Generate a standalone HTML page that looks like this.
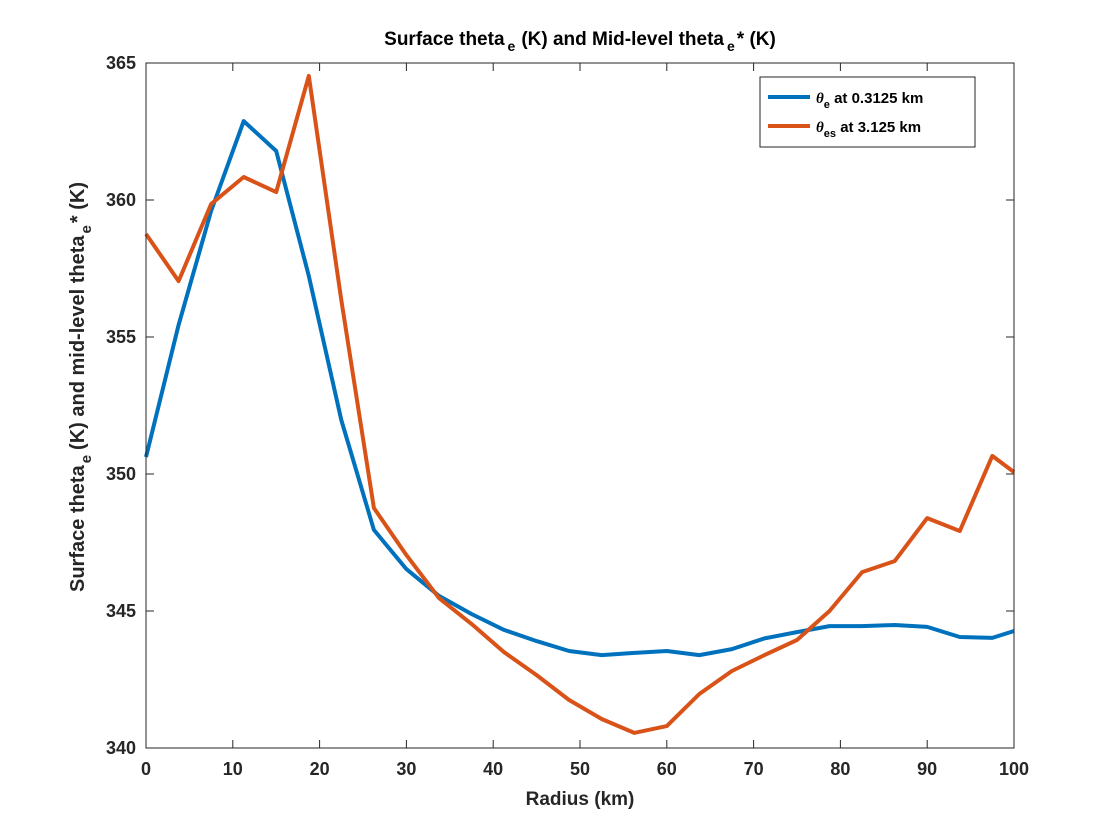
<!DOCTYPE html>
<html><head><meta charset="utf-8"><style>
body{margin:0;background:#fff;}
svg{display:block;font-family:"Liberation Sans",Arial,sans-serif;}
</style></head><body>
<svg id="chart" width="1120" height="840"></svg>
<script>
const xValues=[0,3.75,7.5,11.25,15,18.75,22.5,26.25,30,33.75,37.5,41.25,45,48.75,52.5,56.25,60,63.75,67.5,71.25,75,78.75,82.5,86.25,90,93.75,97.5,100];
const thetaE=[350.62,355.44,359.6,362.88,361.79,357.23,351.97,347.96,346.53,345.55,344.89,344.31,343.9,343.54,343.39,343.47,343.54,343.39,343.61,344.0,344.23,344.45,344.45,344.49,344.42,344.05,344.02,344.27];
const thetaES=[358.76,357.04,359.85,360.84,360.29,364.53,356.35,348.76,347.04,345.47,344.53,343.5,342.66,341.75,341.06,340.55,340.8,341.97,342.81,343.39,343.94,345.0,346.42,346.82,348.39,347.92,350.66,350.07];
const xTicks=[0,10,20,30,40,50,60,70,80,90,100];
const yTicks=[340,345,350,355,360,365];

const NS="http://www.w3.org/2000/svg";
const svg=document.getElementById('chart');
const L=146,R=1014,T=63,B=748;
const xs=v=>L+(v-0)/(100-0)*(R-L);
const ys=v=>B-(v-340)/(365-340)*(B-T);
function mk(tag,attrs,parent){const e=document.createElementNS(NS,tag);for(const k in attrs)e.setAttribute(k,attrs[k]);(parent||svg).appendChild(e);return e;}

const bg=mk('rect',{x:L,y:T,width:R-L,height:B-T,fill:'#fff'});



const xt=mk('g',{});


xTicks.forEach(t=>{
  mk('line',{x1:xs(t),x2:xs(t),y1:B,y2:B-8,stroke:'#262626','stroke-width':1},xt);
  mk('line',{x1:xs(t),x2:xs(t),y1:T,y2:T+8,stroke:'#262626','stroke-width':1},xt);
  const tx=mk('text',{x:xs(t),y:B+27,'text-anchor':'middle','font-size':18,'font-weight':'bold',fill:'#262626'},xt);
  tx.textContent=t;
});
const yt=mk('g',{});


yTicks.forEach(t=>{
  mk('line',{x1:L,x2:L+8,y1:ys(t),y2:ys(t),stroke:'#262626','stroke-width':1},yt);
  mk('line',{x1:R,x2:R-8,y1:ys(t),y2:ys(t),stroke:'#262626','stroke-width':1},yt);
  const tx=mk('text',{x:L-10,y:ys(t)+6,'text-anchor':'end','font-size':18,'font-weight':'bold',fill:'#262626'},yt);
  tx.textContent=t;
});

function series(vals,color,name){
  const d=vals.map((v,i)=>(i?'L':'M')+xs(xValues[i]).toFixed(1)+','+ys(v).toFixed(1)).join(' ');
  const p=mk('path',{d:d,fill:'none',stroke:color,'stroke-width':4,'stroke-linejoin':'round'});
  
  
}
series(thetaE,'#0072BD','theta-e-line');
series(thetaES,'#D95319','theta-es-line');

const frame=mk('rect',{x:L,y:T,width:R-L,height:B-T,fill:'none',stroke:'#262626','stroke-width':1});



const lg=mk('g',{});


mk('rect',{x:760,y:77,width:215,height:70,fill:'#fff',stroke:'#262626','stroke-width':1},lg);
mk('line',{x1:768,x2:810,y1:97,y2:97,stroke:'#0072BD','stroke-width':4},lg);
mk('line',{x1:768,x2:810,y1:126,y2:126,stroke:'#D95319','stroke-width':4},lg);
const l1=mk('text',{x:816,y:103,'font-size':15,'font-weight':'bold',fill:'#000'},lg);
l1.innerHTML='<tspan font-style="italic" font-family="Liberation Serif">θ</tspan><tspan font-size="11" dy="5">e</tspan><tspan dy="-5"> at 0.3125 km</tspan>';


const l2=mk('text',{x:816,y:132,'font-size':15,'font-weight':'bold',fill:'#000'},lg);
l2.innerHTML='<tspan font-style="italic" font-family="Liberation Serif">θ</tspan><tspan font-size="11" dy="5">es</tspan><tspan dy="-5"> at 3.125 km</tspan>';



const title=mk('text',{x:580,y:45,'text-anchor':'middle','font-size':19,'font-weight':'bold',fill:'#000'});
title.innerHTML='Surface theta<tspan font-size="14" dy="6" dx="3">e</tspan><tspan dy="-6" dx="6">(K) and Mid-level theta</tspan><tspan font-size="14" dy="6" dx="3">e</tspan><tspan dy="-6" dx="2">* (K)</tspan>';



const xl=mk('text',{x:580,y:805,'text-anchor':'middle','font-size':19,'font-weight':'bold',fill:'#262626'});
xl.textContent='Radius (km)';



const yl=mk('text',{x:0,y:0,'text-anchor':'middle','font-size':20,'font-weight':'bold',fill:'#262626',transform:'translate(84,387) rotate(-90)'});
yl.innerHTML='Surface theta<tspan font-size="15" dy="7" dx="2">e</tspan><tspan dy="-7" dx="5">(K) and mid-level theta</tspan><tspan font-size="15" dy="7" dx="2">e</tspan><tspan dy="-7" dx="2">* (K)</tspan>';


</script>
</body></html>
